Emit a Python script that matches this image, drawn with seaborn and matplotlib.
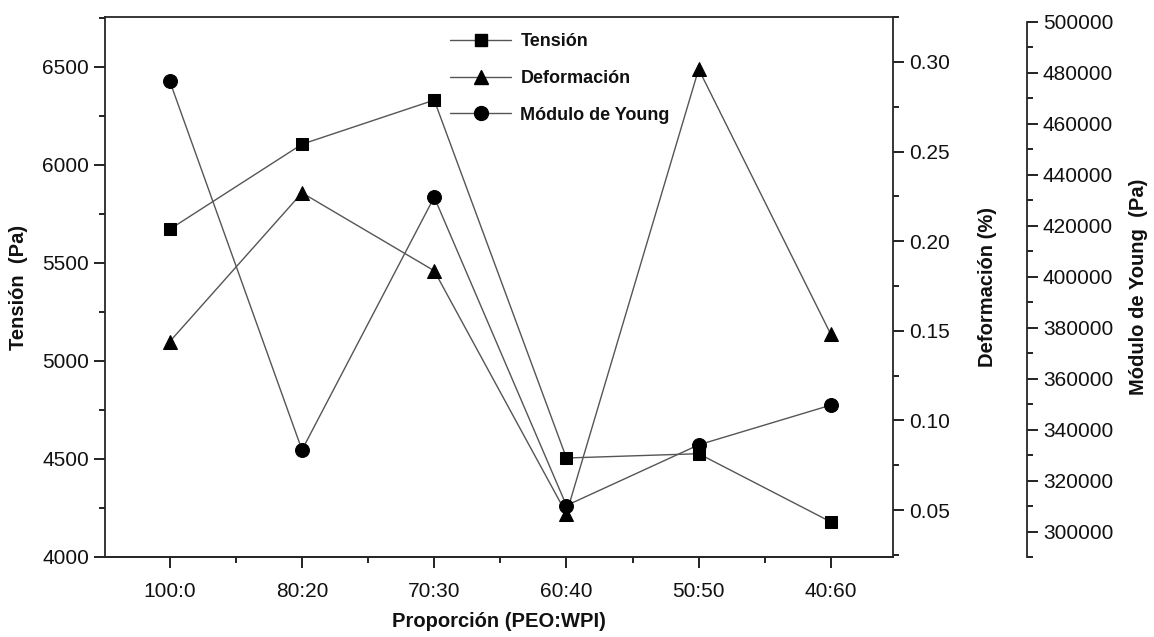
import numpy as np
import pandas as pd
import seaborn as sns
import matplotlib.pyplot as plt
import matplotlib.ticker as ticker
from matplotlib.lines import Line2D


proporciones = ["100:0", "80:20", "70:30", "60:40", "50:50", "40:60"]

tension = [5672, 6106, 6331, 4505, 4527, 4179]
deformacion = [0.144, 0.227, 0.1835, 0.048, 0.296, 0.148]
modulo_young = [476700, 332000, 431200, 310200, 334000, 349600]

LINE_COLOR = "#555555"
MARK_COLOR = "black"
TICK_SIZE = 15
LABEL_SIZE = 14.5

sns.set_style("ticks")
plt.rcParams["font.family"] = ["Liberation Sans", "DejaVu Sans"]
plt.rcParams["axes.linewidth"] = 1.3
plt.rcParams["xtick.major.width"] = 1.3
plt.rcParams["ytick.major.width"] = 1.3
plt.rcParams["xtick.minor.width"] = 1.3
plt.rcParams["ytick.minor.width"] = 1.3
plt.rcParams["xtick.major.size"] = 8
plt.rcParams["ytick.major.size"] = 8
plt.rcParams["xtick.minor.size"] = 4.5
plt.rcParams["ytick.minor.size"] = 4.5
plt.rcParams["text.color"] = "#111111"
plt.rcParams["axes.labelcolor"] = "#111111"
plt.rcParams["xtick.color"] = "#111111"
plt.rcParams["ytick.color"] = "#111111"

df = pd.DataFrame({
	"pos": np.arange(len(proporciones)),
	"proporcion": proporciones,
	"tension": tension,
	"deformacion": deformacion,
	"modulo": modulo_young})

fig = plt.figure(figsize=(11.54, 6.37), dpi=100)
ax1 = fig.add_axes([105/1154, 1 - 557/637, (893-105)/1154, (557-17)/637])
ax2 = ax1.twinx()
ax3 = ax1.twinx()

line_kw = dict(color=LINE_COLOR, linewidth=1.0, markerfacecolor=MARK_COLOR,
	markeredgecolor=MARK_COLOR, legend=False)

sns.lineplot(data=df, x="pos", y="tension", marker="s", markersize=9, ax=ax1, **line_kw)
sns.lineplot(data=df, x="pos", y="deformacion", marker="^", markersize=10.5, ax=ax2, **line_kw)
sns.lineplot(data=df, x="pos", y="modulo", marker="o", markersize=10, ax=ax3, **line_kw)

# x axis
ax1.set_xlim(-0.49, 5.47)
ax1.set_xticks(df["pos"])
ax1.set_xticklabels(proporciones, fontsize=TICK_SIZE)
ax1.xaxis.set_minor_locator(ticker.FixedLocator(np.arange(0.5, 5.0, 1)))
ax1.set_xlabel("Proporción (PEO:WPI)", fontsize=LABEL_SIZE, fontweight="bold", labelpad=8)

# left axis
ax1.set_ylim(4000, 6755)
ax1.yaxis.set_major_locator(ticker.MultipleLocator(500))
ax1.yaxis.set_minor_locator(ticker.MultipleLocator(250))
ax1.set_ylabel("Tensión  (Pa)", fontsize=LABEL_SIZE, fontweight="bold", labelpad=10)
ax1.tick_params(axis="both", which="both", direction="out", labelsize=TICK_SIZE)
ax1.tick_params(axis="x", which="major", pad=10)
ax1.spines["top"].set_visible(True)
ax1.spines["right"].set_visible(False)

# deformacion axis
ax2.set_ylim(0.0238, 0.3251)
ax2.yaxis.set_major_locator(ticker.MultipleLocator(0.05))
ax2.yaxis.set_minor_locator(ticker.MultipleLocator(0.025))
ax2.yaxis.set_major_formatter(ticker.FormatStrFormatter("%.2f"))
ax2.set_ylabel("Deformación (%)", fontsize=LABEL_SIZE, fontweight="bold", labelpad=20)
ax2.tick_params(axis="y", which="both", direction="out", labelsize=TICK_SIZE)
ax2.spines["right"].set_visible(True)
ax2.spines["top"].set_visible(False)
ax2.spines["left"].set_visible(False)

# modulo de young axis
ax3.set_ylim(290000, 501900)
ax3.spines["right"].set_position(("axes", (1027-105)/(893-105)))
ax3.spines["right"].set_visible(True)
ax3.spines["right"].set_bounds(290000, 500000)
ax3.spines["top"].set_visible(False)
ax3.spines["left"].set_visible(False)
ax3.spines["bottom"].set_visible(False)
ax3.yaxis.set_major_locator(ticker.MultipleLocator(20000))
ax3.yaxis.set_minor_locator(ticker.MultipleLocator(10000))
ax3.yaxis.set_major_formatter(ticker.FormatStrFormatter("%d"))
ax3.set_ylabel("Módulo de Young  (Pa)", fontsize=LABEL_SIZE, fontweight="bold", labelpad=11)
ax3.tick_params(axis="y", which="both", direction="out", labelsize=TICK_SIZE)

for ax in [ax2, ax3]:
	ax.set_xlabel("")

handles = [
	Line2D([], [], color=LINE_COLOR, linewidth=1.0, marker="s", markersize=9,
		markerfacecolor=MARK_COLOR, markeredgecolor=MARK_COLOR),
	Line2D([], [], color=LINE_COLOR, linewidth=1.0, marker="^", markersize=10.5,
		markerfacecolor=MARK_COLOR, markeredgecolor=MARK_COLOR),
	Line2D([], [], color=LINE_COLOR, linewidth=1.0, marker="o", markersize=10,
		markerfacecolor=MARK_COLOR, markeredgecolor=MARK_COLOR),
]
labels = ["Tensión", "Deformación", "Módulo de Young"]
fig.legend(handles, labels, loc="upper left", bbox_to_anchor=(450/1154, 1 - 33/637),
	frameon=False, prop={"weight": "bold", "size": 13}, handlelength=3.4,
	handletextpad=0.5, labelspacing=1.1, borderpad=0, borderaxespad=0)

plt.savefig("out.png", dpi=100)
